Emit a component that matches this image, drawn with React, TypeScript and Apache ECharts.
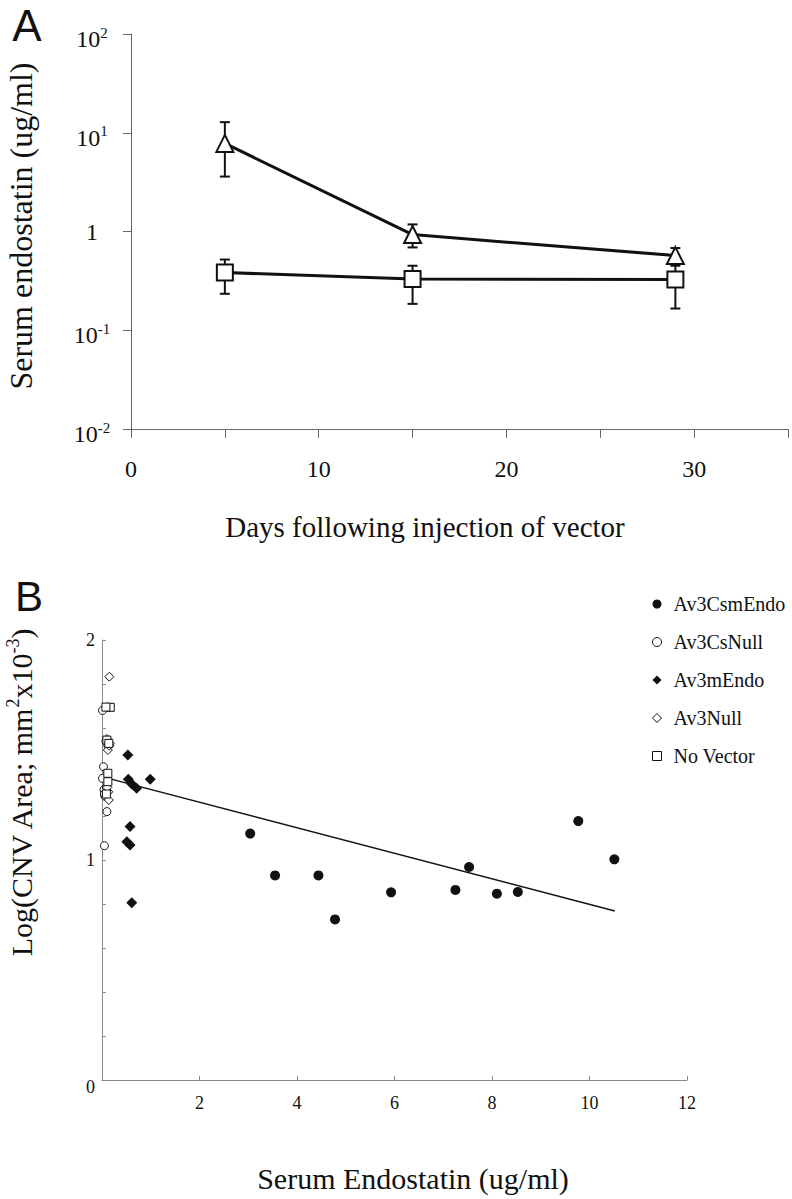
import React, { useEffect, useRef } from "react";
import * as echarts from "echarts";

// ---------- Panel A data ----------
const daysA = [5, 15, 29];
const triMean = [7.8, 0.93, 0.57];
const triLow = [3.6, 0.69, 0.47];
const triHigh = [12.8, 1.18, 0.68];
const sqMean = [0.384, 0.33, 0.326];
const sqLow = [0.234, 0.185, 0.166];
const sqHigh = [0.52, 0.45, 0.45];
const xTicksA = [0, 10, 20, 30];
const yTicksA = [0.01, 0.1, 1, 10, 100];

// ---------- Panel B data ----------
const av3CsmEndo = [
  [3.04, 1.12], [3.55, 0.93], [4.44, 0.93], [4.78, 0.73], [5.93, 0.853],
  [7.25, 0.864], [7.53, 0.968], [8.1, 0.847], [8.53, 0.855], [9.77, 1.177], [10.51, 1.003],
];
const av3CsNull = [
  [0.01, 1.68], [0.03, 1.424], [0.01, 1.371], [0.07, 1.31], [0.1, 1.22], [0.05, 1.065],
  [0.08, 1.54], [0.12, 1.52], [0.04, 1.32], [0.06, 1.29], [0.09, 1.33], [0.05, 1.3],
];
const av3mEndo = [
  [0.53, 1.477], [0.54, 1.367], [0.61, 1.345], [0.71, 1.326], [0.99, 1.367],
  [0.575, 1.152], [0.51, 1.083], [0.575, 1.068], [0.61, 0.806],
];
const av3Null = [
  [0.15, 1.833], [0.14, 1.273], [0.12, 1.5], [0.16, 1.53], [0.1, 1.55],
  [0.13, 1.31], [0.11, 1.33], [0.15, 1.52],
];
const noVector = [
  [0.17, 1.694], [0.08, 1.695], [0.12, 1.394], [0.12, 1.356], [0.1, 1.545], [0.14, 1.53], [0.09, 1.3],
];
const fitLine = [[0.13, 1.371], [10.52, 0.768]];
const xTicksB = [2, 4, 6, 8, 10, 12];
const yTicksB = [0, 1, 2];
const legendNames = ["Av3CsmEndo", "Av3CsNull", "Av3mEndo", "Av3Null", "No Vector"];

const SERIF = "Liberation Serif";
const SANS = "Liberation Sans";

function errRender(params: any, api: any) {
  const x = api.value(0);
  const lo = api.value(1);
  const hi = api.value(2);
  const p1 = api.coord([x, lo]);
  const p2 = api.coord([x, hi]);
  const w = 5;
  const st = { stroke: "#111", lineWidth: 2 };
  return {
    type: "group",
    children: [
      { type: "line", shape: { x1: p1[0], y1: p1[1], x2: p2[0], y2: p2[1] }, style: st },
      { type: "line", shape: { x1: p1[0] - w, y1: p1[1], x2: p1[0] + w, y2: p1[1] }, style: st },
      { type: "line", shape: { x1: p2[0] - w, y1: p2[1], x2: p2[0] + w, y2: p2[1] }, style: st },
    ],
  };
}

export default function App() {
  const ref = useRef<HTMLDivElement>(null);
  useEffect(() => {
    if (!ref.current) return;
    const chart = echarts.init(ref.current, undefined, { renderer: "svg" });
    const openStyle = { color: "#fff", borderColor: "#111", borderWidth: 1, opacity: 1 };
    const fillStyle = { color: "#111", opacity: 1 };
    const option: any = {
      animation: false,
      backgroundColor: "#fff",
      textStyle: { fontFamily: SERIF },
      grid: [
        { left: 131, top: 34, width: 657, height: 395 },
        { left: 102, top: 640, width: 585, height: 440 },
      ],
      xAxis: [
        {
          gridIndex: 0, type: "value", min: 0, max: 35, interval: 5,
          axisLine: { lineStyle: { color: "#666", width: 1 } },
          axisTick: { length: 9, lineStyle: { color: "#666" } },
          splitLine: { show: false },
          axisLabel: { show: false },
        },
        {
          gridIndex: 1, type: "value", min: 0, max: 12, interval: 2,
          axisLine: { lineStyle: { color: "#888", width: 1 } },
          axisTick: { inside: true, length: 4, lineStyle: { color: "#888" } },
          splitLine: { show: false },
          axisLabel: { show: false },
        },
      ],
      yAxis: [
        {
          gridIndex: 0, type: "log", logBase: 10, min: 0.01, max: 100,
          axisLine: { show: true, lineStyle: { color: "#666", width: 1 } },
          axisTick: { show: true, length: 8, lineStyle: { color: "#666" } },
          splitLine: { show: false },
          axisLabel: { show: false },
        },
        {
          gridIndex: 1, type: "value", min: 0, max: 2, interval: 0.2,
          axisLine: { show: true, lineStyle: { color: "#888", width: 1 } },
          axisTick: { show: true, inside: true, length: 4, lineStyle: { color: "#888" } },
          splitLine: { show: false },
          axisLabel: { show: false },
        },
      ],
      legend: {
        orient: "vertical", left: 647, top: 589, itemWidth: 9, itemHeight: 9, itemGap: 18,
        selectedMode: false,
        textStyle: { fontSize: 20, lineHeight: 20, fontFamily: SERIF, color: "#111", padding: [0, 0, 0, 7] },
        data: [
          { name: legendNames[0], icon: "circle", itemStyle: fillStyle },
          { name: legendNames[1], icon: "circle", itemStyle: openStyle },
          { name: legendNames[2], icon: "diamond", itemStyle: fillStyle },
          { name: legendNames[3], icon: "diamond", itemStyle: openStyle },
          { name: legendNames[4], icon: "rect", itemStyle: openStyle },
        ],
      },
      series: [
        {
          type: "custom", xAxisIndex: 0, yAxisIndex: 0, renderItem: errRender, z: 1,
          encode: { x: 0, y: [1, 2] },
          data: daysA.map((d, i) => [d, triLow[i], triHigh[i]]),
        },
        {
          type: "custom", xAxisIndex: 0, yAxisIndex: 0, renderItem: errRender, z: 1,
          encode: { x: 0, y: [1, 2] },
          data: daysA.map((d, i) => [d, sqLow[i], sqHigh[i]]),
        },
        {
          type: "line", xAxisIndex: 0, yAxisIndex: 0, z: 3,
          data: daysA.map((d, i) => [d, triMean[i]]),
          symbol: "triangle", symbolSize: 17,
          lineStyle: { color: "#111", width: 3 },
          itemStyle: { color: "#fff", borderColor: "#111", borderWidth: 2, opacity: 1 },
        },
        {
          type: "line", xAxisIndex: 0, yAxisIndex: 0, z: 3,
          data: daysA.map((d, i) => [d, sqMean[i]]),
          symbol: "rect", symbolSize: 16,
          lineStyle: { color: "#111", width: 3 },
          itemStyle: { color: "#fff", borderColor: "#111", borderWidth: 2, opacity: 1 },
        },
        {
          type: "line", xAxisIndex: 1, yAxisIndex: 1, data: fitLine, symbol: "none", z: 2,
          lineStyle: { color: "#111", width: 1.5 },
        },
        {
          name: legendNames[1], type: "scatter", xAxisIndex: 1, yAxisIndex: 1, data: av3CsNull,
          symbol: "circle", symbolSize: 8, itemStyle: openStyle, z: 3,
        },
        {
          name: legendNames[3], type: "scatter", xAxisIndex: 1, yAxisIndex: 1, data: av3Null,
          symbol: "diamond", symbolSize: 9, itemStyle: openStyle, z: 3,
        },
        {
          name: legendNames[4], type: "scatter", xAxisIndex: 1, yAxisIndex: 1, data: noVector,
          symbol: "rect", symbolSize: 8, itemStyle: openStyle, z: 3,
        },
        {
          name: legendNames[2], type: "scatter", xAxisIndex: 1, yAxisIndex: 1, data: av3mEndo,
          symbol: "diamond", symbolSize: 11, itemStyle: fillStyle, z: 4,
        },
        {
          name: legendNames[0], type: "scatter", xAxisIndex: 1, yAxisIndex: 1, data: av3CsmEndo,
          symbol: "circle", symbolSize: 10, itemStyle: fillStyle, z: 4,
        },
      ],
    };
    chart.setOption(option);

    const txt = (x: number, y: number, text: string, size: number, align = "center", extra: any = {}) => ({
      type: "text", x, y, ...extra,
      style: { text, fontSize: size, fontFamily: SERIF, fill: "#111", align, verticalAlign: "middle" },
    });

    const graphics: any[] = [
      { type: "text", x: 27, y: 25, style: { text: "A", fontSize: 44, fontFamily: SANS, fill: "#111", align: "center", verticalAlign: "middle" } },
      { type: "text", x: 29, y: 596, style: { text: "B", fontSize: 42, fontFamily: SANS, fill: "#111", align: "center", verticalAlign: "middle" } },
      txt(21, 226, "Serum endostatin (ug/ml)", 32, "center", { rotation: Math.PI / 2 }),
      txt(425, 527, "Days following injection of vector", 29),
      {
        type: "text", x: 21, y: 793, rotation: Math.PI / 2,
        style: {
          text: "{a|Log(CNV Area; mm}{s|2}{a|x10}{s|-3}{a|)}",
          align: "center", verticalAlign: "middle",
          rich: {
            a: { fontSize: 30, fontFamily: SERIF, fill: "#111", lineHeight: 34 },
            s: { fontSize: 18, fontFamily: SERIF, fill: "#111", verticalAlign: "top", lineHeight: 34 },
          },
        },
      },
      txt(413, 1178, "Serum Endostatin (ug/ml)", 30),
    ];

    // Tick labels placed through the axes' own scales
    const axisYA = chart.convertToPixel({ yAxisIndex: 0 }, 0.01) as number;
    const axisXA = chart.convertToPixel({ xAxisIndex: 0 }, 0) as number;
    xTicksA.forEach((v) => {
      const px = chart.convertToPixel({ xAxisIndex: 0 }, v) as number;
      graphics.push(txt(px, axisYA + 39.5, String(v), 24));
    });
    yTicksA.forEach((v) => {
      const py = chart.convertToPixel({ yAxisIndex: 0 }, v) as number;
      const e = Math.round(Math.log10(v));
      if (e === 0) {
        graphics.push(txt(axisXA - 39, py, "1", 24));
      } else {
        graphics.push({
          type: "text", x: axisXA - 39, y: py + 5,
          style: {
            text: `{b|10}{s|${e}}`, align: "center", verticalAlign: "middle",
            rich: {
              b: { fontSize: 24, fontFamily: SERIF, fill: "#111", lineHeight: 28 },
              s: { fontSize: 15, fontFamily: SERIF, fill: "#111", verticalAlign: "top", lineHeight: 28 },
            },
          },
        });
      }
    });
    const axisYB = chart.convertToPixel({ yAxisIndex: 1 }, 0) as number;
    const axisXB = chart.convertToPixel({ xAxisIndex: 1 }, 0) as number;
    xTicksB.forEach((v) => {
      const px = chart.convertToPixel({ xAxisIndex: 1 }, v) as number;
      graphics.push(txt(px, axisYB + 22.5, String(v), 18));
    });
    yTicksB.forEach((v) => {
      const py = chart.convertToPixel({ yAxisIndex: 1 }, v) as number;
      graphics.push(txt(axisXB - 7, py + (v === 0 ? 7 : 0), String(v), 18, "right"));
    });

    chart.setOption({ graphic: graphics });
    return () => chart.dispose();
  }, []);
  return (
    <div
      ref={ref}
      style={{ position: "absolute", left: 0, top: 0, width: 792, height: 1199, background: "#fff" }}
    />
  );
}
